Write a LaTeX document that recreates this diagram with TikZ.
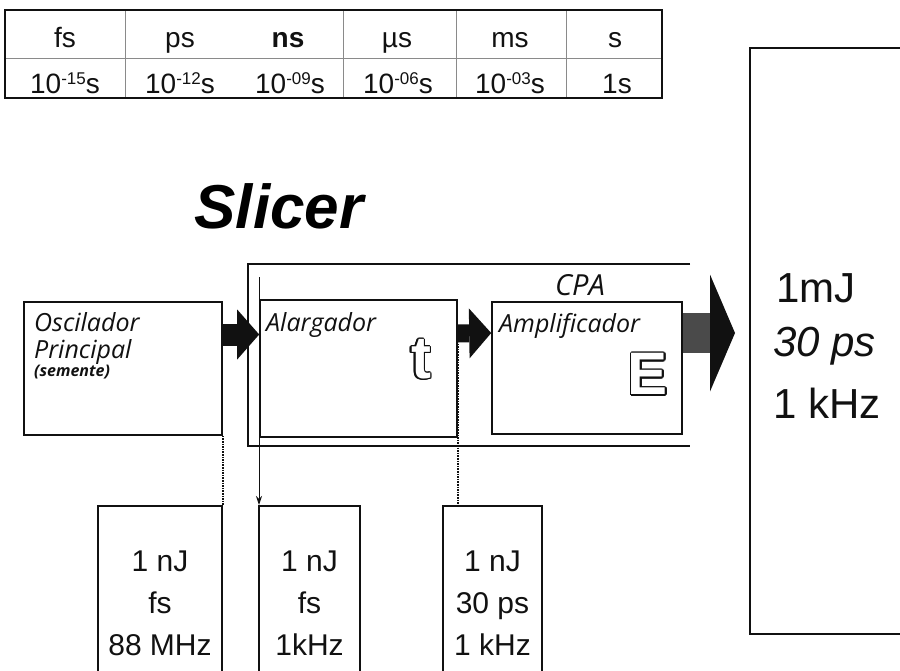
\documentclass[tikz,border=0pt]{standalone}
\usepackage{fontspec}
\setmainfont{Liberation Sans}
\newfontfamily\humfont{Open Sans}
\usepackage{contour}
\usetikzlibrary{positioning,arrows.meta,calc}
\definecolor{cInk}{HTML}{111111}
\definecolor{cRule}{HTML}{8A8A8A}
\definecolor{cShaft}{HTML}{4A4A4A}
\newcommand{\fsz}[2]{\fontsize{#1}{#2}\selectfont}
\newcommand{\tpow}[1]{10\raisebox{0.6ex}{\fsz{17}{17}#1}s}
\contourlength{1.3pt}
\newcommand{\hollow}[1]{\contour{cInk}{\textcolor{white}{#1}}}
\tikzset{
  box/.style={draw=cInk, line width=1.6pt, inner sep=0pt},
  ttl/.style={font=\humfont\itshape\fsz{25}{28}, inner sep=0pt, text=cInk, anchor=base west},
  val/.style={font=\fsz{30}{42}, align=center, inner sep=0pt, text=cInk},
  unit/.style={font=\fsz{28}{28}, inner sep=0pt, anchor=base, text=cInk},
  pw/.style={font=\fsz{28}{28}, inner sep=0pt, anchor=base, text=cInk},
  big/.style={font=\fsz{42}{42}, inner sep=0pt, anchor=base west, text=cInk},
  fat/.style={line width=22pt, cInk, -{Triangle[length=22pt,width=50pt,line width=0pt]}},
  dots/.style={cInk, line width=1.6pt, densely dotted},
  rule/.style={cRule, line width=0.6pt}
}
\begin{document}
\begin{tikzpicture}[x=1pt,y=-1pt]
\useasboundingbox (0,0) rectangle (900,670);
% time scale
\draw[rule] (5,58) -- (662,58);
\foreach \x in {125,343,456,566} \draw[rule] (\x,10) -- (\x,98);
\node[box, line width=2.2pt, minimum width=657pt, minimum height=88pt] (tab) at (333.5,54) {};
\node[unit] (ufs) at (65,47) {fs};
\node[unit] (ups) at (180,47) {ps};
\node[unit] (uns) at (288,47) {\bfseries ns};
\node[unit] (uus) at (397,47) {µs};
\node[unit] (ums) at (510,47) {ms};
\node[unit] (us) at (615,47) {s};
\node[pw] (pfs) at (65,93) {\tpow{-15}};
\node[pw] (pps) at (180,93) {\tpow{-12}};
\node[pw] (pns) at (290,93) {\tpow{-09}};
\node[pw] (pus) at (398,93) {\tpow{-06}};
\node[pw] (pms) at (510,93) {\tpow{-03}};
\node[pw] (ps) at (617,93) {1s};
% slicer
\node[font=\bfseries\itshape\fsz{62}{62}, inner sep=0pt, anchor=base] (slicer) at (279,228) {Slicer};
\draw[cInk, line width=1.6pt] (690,264) -- (248,264) -- (248,446) -- (690,446);
\node[ttl, font=\humfont\itshape\fsz{29}{29}, anchor=base] (cpa) at (580,295) {CPA};
\node[box, minimum width=198pt, minimum height=133pt] (osc) at (123,368.5) {};
\node[box, minimum width=197pt, minimum height=137pt] (alar) at (358.5,368.5) {};
\node[box, minimum width=190pt, minimum height=132pt] (amp) at (587,368) {};
\node[ttl] (osct) at (34,331) {Oscilador};
\node[ttl] (oscp) at (34,358) {Principal};
\node[ttl, font=\humfont\itshape\bfseries\fsz{16}{16}] (oscs) at (34,376) {(semente)};
\node[ttl] (alart) at (266,331) {Alargador};
\node[ttl] (ampt) at (499,332) {Amplificador};
\node[font=\bfseries\fsz{60}{60}, inner sep=0pt] (tlet) at (421,360) {\hollow{t}};
\node[font=\bfseries\fsz{60}{60}, inner sep=0pt] (elet) at (648,375) {\hollow{E}};
\draw[fat] ([yshift=34pt]osc.east) -- ([yshift=34pt]alar.west);
\draw[fat, line width=18pt] ([yshift=35pt]alar.east) -- ([yshift=35pt]amp.west);
\coordinate (outp) at (735,333);
\draw[cShaft, line width=40pt, -{Triangle[length=25pt,width=117pt,line width=0pt,color=cInk]}] ([yshift=35pt]amp.east) -- (outp);
% output
\node[box, minimum width=180pt, minimum height=586pt] (res) at (840,341) {};
\node[big] (rese) at (776,302) {1mJ};
\node[big] (resp) at (773,356) {\itshape 30 ps};
\node[big] (resf) at (773,418) {1 kHz};
% pulses
\node[box, minimum width=124pt, minimum height=200pt, anchor=north] (b1) at (160,505) {};
\node[box, minimum width=101pt, minimum height=200pt, anchor=north] (b2) at (309.5,505) {};
\node[box, minimum width=99pt, minimum height=200pt, anchor=north] (b3) at (492.5,505) {};
\node[val, below=46pt of b1.north] (b1t) {1 nJ\\fs\\88 MHz};
\node[val, below=46pt of b2.north] (b2t) {1 nJ\\fs\\1kHz};
\node[val, below=46pt of b3.north] (b3t) {1 nJ\\30 ps\\1 kHz};
\coordinate (tap) at (259,277);
\draw[cInk, line width=1pt, -{Stealth[length=9pt,width=6pt]}] (tap) -- (tap |- b2.north);
\draw[dots] (osc.south east) -- (b1.north east);
\draw[dots] ([yshift=25pt]alar.east) -- (alar.east |- b3.north);
\end{tikzpicture}
\end{document}
